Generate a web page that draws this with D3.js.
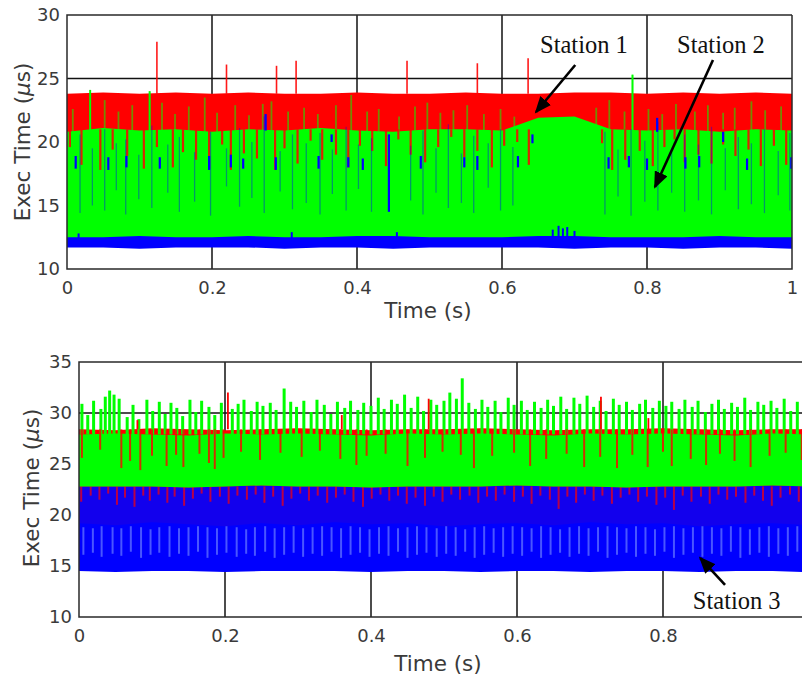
<!DOCTYPE html>
<html>
<head>
<meta charset="utf-8">
<style>
  body { margin: 0; background: #fff; }
  .domain { display: none; }
  .tick text { font-family: "DejaVu Sans", sans-serif; font-size: 18px; fill: #3a3a3a; }
  .lbl { font-family: "DejaVu Sans", sans-serif; font-size: 21.5px; fill: #3a3a3a; }
  .note { font-family: "Liberation Serif", serif; font-size: 24.5px; fill: #111; }
</style>
</head>
<body>
<svg width="802" height="681"></svg>
<script src="https://d3js.org/d3.v7.min.js"></script>
<script>
// ticks
var xTicks = [0, 0.2, 0.4, 0.6, 0.8, 1];
var topYTicks = [10, 15, 20, 25, 30];
var botYTicks = [10, 15, 20, 25, 30, 35];

// times where band edges are sampled
var bandT = [0, 0.05, 0.1, 0.15, 0.2, 0.25, 0.3, 0.35, 0.4, 0.45, 0.5, 0.55, 0.6, 0.65, 0.7, 0.75, 0.8, 0.85, 0.9, 0.95, 1];

// ---- top panel ----
// station 1 (red)
var s1TopHi = [23.8, 23.9, 23.8, 23.9, 23.8, 23.9, 23.8, 23.8, 23.9, 23.8, 23.8, 23.9, 23.8, 23.8, 23.9, 23.9, 23.8, 23.9, 23.8, 23.9, 23.8];
var s1TopLo = [20.4, 20.3, 20.4, 20.2, 20.3, 20.4, 20.3, 20.4, 20.3, 20.3, 20.4, 20.3, 20.4, 20.8, 20.9, 20.4, 20.3, 20.4, 20.3, 20.4, 20.3];
var s1TopUp = [[0.124, 27.9], [0.220, 26.1], [0.289, 26.0], [0.316, 26.4], [0.469, 26.4], [0.566, 26.2], [0.636, 26.6]];
var s1TopDips = [[0.004, 19.6], [0.020, 18.2], [0.046, 17.8], [0.063, 19.4], [0.083, 18.9], [0.106, 17.9], [0.124, 19.6],
  [0.146, 18.0], [0.160, 19.2], [0.178, 18.6], [0.196, 17.9], [0.214, 19.8], [0.226, 17.8], [0.244, 19.1], [0.262, 18.7],
  [0.287, 17.8], [0.300, 19.5], [0.318, 18.3], [0.336, 20.1], [0.352, 18.6], [0.371, 19.0], [0.388, 18.0], [0.404, 19.7],
  [0.421, 19.3], [0.440, 18.1], [0.457, 20.2], [0.474, 19.0], [0.494, 18.4], [0.512, 19.6], [0.530, 20.4], [0.548, 18.8],
  [0.566, 19.3], [0.586, 18.0], [0.603, 19.7], [0.621, 20.0], [0.637, 18.2], [0.738, 19.9], [0.752, 17.8], [0.770, 18.6],
  [0.790, 19.3], [0.808, 18.1], [0.824, 19.6], [0.838, 20.2], [0.852, 18.4], [0.871, 19.0], [0.889, 18.3], [0.905, 19.8],
  [0.922, 18.9], [0.940, 19.4], [0.957, 18.1], [0.975, 19.7], [0.992, 18.2]];
// station 2 (green)
var s2TopHi = [20.8, 21.1, 20.9, 21.0, 20.8, 21.0, 20.9, 21.1, 20.9, 20.8, 21.0, 21.0, 20.9, 21.9, 22.0, 21.0, 20.9, 21.0, 20.8, 21.0, 20.9];
var s2TopLo = [12.4, 12.4, 12.4, 12.4, 12.4, 12.4, 12.4, 12.4, 12.4, 12.4, 12.4, 12.4, 12.4, 12.4, 12.4, 12.4, 12.4, 12.4, 12.4, 12.4, 12.4];
var s2TopUp = [[0.008, 22.6], [0.032, 24.1], [0.052, 23.3], [0.071, 22.4], [0.090, 22.9], [0.114, 24.0], [0.131, 23.1],
  [0.149, 22.2], [0.168, 22.8], [0.190, 23.5], [0.207, 22.3], [0.232, 22.9], [0.251, 22.1], [0.270, 23.0], [0.282, 23.2],
  [0.305, 22.4], [0.327, 22.7], [0.346, 22.2], [0.371, 22.9], [0.392, 23.7], [0.414, 22.4], [0.430, 22.6], [0.458, 22.0],
  [0.480, 22.8], [0.497, 23.1], [0.515, 22.3], [0.533, 22.5], [0.552, 22.9], [0.575, 22.2], [0.598, 22.6], [0.617, 22.0],
  [0.730, 22.7], [0.748, 23.3], [0.769, 22.4], [0.780, 25.3], [0.802, 22.6], [0.821, 22.2], [0.840, 23.0], [0.866, 22.4],
  [0.884, 22.9], [0.905, 22.3], [0.921, 22.7], [0.944, 23.2], [0.963, 22.5], [0.985, 22.8]];
// station 3 (blue)
var s3TopHi = [12.5, 12.5, 12.6, 12.5, 12.5, 12.6, 12.5, 12.5, 12.6, 12.6, 12.5, 12.5, 12.5, 12.6, 12.6, 12.5, 12.5, 12.5, 12.6, 12.5, 12.5];
var s3TopLo = [11.7, 11.7, 11.6, 11.7, 11.7, 11.7, 11.6, 11.7, 11.7, 11.6, 11.7, 11.7, 11.7, 11.7, 11.6, 11.7, 11.7, 11.6, 11.7, 11.7, 11.6];
var s3TopBumps = [[0.016, 12.8], [0.310, 12.9], [0.455, 12.9], [0.670, 13.1], [0.678, 13.4], [0.684, 13.2], [0.690, 13.3], [0.700, 13.0]];
var s3TopLines = [[0.018, 14.4, 20.6], [0.035, 15.0, 19.5], [0.052, 14.6, 21.0], [0.068, 16.2, 19.9], [0.081, 14.3, 20.2],
  [0.099, 15.5, 19.0], [0.117, 14.8, 21.3], [0.139, 16.0, 19.8], [0.155, 14.5, 20.4], [0.176, 15.3, 19.2], [0.198, 14.2, 20.8],
  [0.220, 16.5, 19.5], [0.238, 14.9, 21.1], [0.255, 15.6, 20.0], [0.272, 14.4, 22.0], [0.294, 16.1, 19.3], [0.311, 14.7, 20.6],
  [0.330, 15.2, 19.9], [0.349, 14.3, 20.7], [0.366, 15.9, 19.4], [0.385, 14.6, 21.2], [0.402, 16.3, 19.8], [0.420, 14.5, 20.3],
  [0.474, 15.4, 19.7], [0.491, 14.3, 20.9], [0.509, 16.0, 19.5], [0.526, 14.8, 21.4], [0.544, 15.2, 19.1], [0.561, 14.4, 20.5],
  [0.581, 16.4, 19.9], [0.598, 14.6, 21.0], [0.615, 15.0, 19.6], [0.742, 14.3, 20.8], [0.760, 15.7, 19.4], [0.778, 14.2, 21.0],
  [0.797, 15.3, 20.1], [0.815, 14.6, 21.6], [0.834, 16.0, 19.2], [0.852, 14.5, 20.6], [0.871, 15.4, 19.8], [0.889, 14.3, 21.2],
  [0.908, 16.2, 19.5], [0.926, 14.7, 20.4], [0.944, 15.1, 19.9], [0.962, 14.4, 21.0], [0.981, 15.8, 19.3], [0.997, 14.6, 20.7]];
var s3TopMarks = [[0.012, 17.9, 18.9], [0.057, 17.8, 18.8], [0.082, 18.0, 18.9], [0.128, 17.9, 18.8], [0.196, 17.8, 18.9],
  [0.226, 18.0, 19.0], [0.243, 17.9, 18.7], [0.274, 20.9, 22.2], [0.288, 17.8, 18.8], [0.347, 17.9, 18.9], [0.365, 20.0, 20.6],
  [0.388, 18.0, 18.8], [0.408, 17.8, 18.7], [0.444, 14.5, 20.6], [0.488, 17.9, 18.9], [0.548, 18.0, 18.8], [0.566, 17.8, 18.9],
  [0.622, 18.0, 18.9], [0.642, 19.9, 20.6], [0.747, 17.9, 18.8], [0.775, 18.0, 18.9], [0.800, 17.8, 18.7], [0.814, 20.8, 21.9],
  [0.853, 17.9, 18.8], [0.872, 18.0, 18.9], [0.905, 20.0, 20.8], [0.938, 17.8, 18.7], [0.999, 17.9, 18.8]];

// ---- bottom panel ----
// station 1 (red)
var s1BotHi = [28.4, 28.3, 28.5, 28.4, 28.3, 28.4, 28.5, 28.4, 28.3, 28.4, 28.4, 28.5, 28.4, 28.3, 28.4, 28.4, 28.5, 28.4, 28.3, 28.4, 28.4];
var s1BotLo = [19.2, 19.0, 19.3, 19.1, 18.9, 19.2, 19.0, 19.3, 19.1, 19.2, 18.9, 19.1, 19.2, 19.0, 19.3, 19.1, 19.2, 18.9, 19.1, 19.2, 19.0];
var s1BotUp = [[0.080, 29.3], [0.204, 32.0], [0.360, 29.8], [0.479, 31.4], [0.715, 31.6], [0.780, 29.5]];
var s1BotDips = [[0.004, 25.6], [0.029, 26.4], [0.058, 24.6], [0.070, 25.3], [0.084, 24.4], [0.100, 25.8], [0.120, 24.8],
  [0.133, 25.9], [0.143, 24.7], [0.165, 26.0], [0.178, 25.1], [0.186, 24.5], [0.198, 25.6], [0.222, 26.2], [0.248, 25.4],
  [0.276, 26.1], [0.305, 25.7], [0.330, 26.3], [0.358, 25.5], [0.380, 24.9], [0.394, 25.8], [0.420, 26.0], [0.450, 24.8],
  [0.474, 25.6], [0.498, 26.2], [0.523, 25.9], [0.541, 24.6], [0.566, 25.8], [0.596, 26.1], [0.618, 24.8], [0.640, 25.5],
  [0.668, 26.0], [0.692, 24.7], [0.714, 25.7], [0.737, 24.6], [0.758, 25.9], [0.779, 24.7], [0.800, 26.2], [0.812, 24.8],
  [0.838, 25.5], [0.859, 24.9], [0.878, 26.0], [0.898, 25.3], [0.920, 24.7], [0.946, 25.8], [0.968, 26.1], [0.990, 25.4]];
var s1BotDipsLow = [[0.003, 21.3], [0.016, 21.9], [0.028, 21.5], [0.040, 22.1], [0.052, 21.0], [0.063, 21.7], [0.076, 20.8],
  [0.088, 21.9], [0.097, 21.4], [0.109, 22.0], [0.121, 21.2], [0.131, 21.8], [0.144, 20.9], [0.156, 21.6], [0.168, 22.1],
  [0.180, 21.3], [0.193, 21.8], [0.205, 21.1], [0.217, 21.9], [0.230, 21.5], [0.242, 22.0], [0.254, 21.2], [0.266, 21.8],
  [0.279, 20.9], [0.291, 21.6], [0.303, 22.1], [0.315, 21.4], [0.327, 21.9], [0.340, 21.2], [0.352, 21.7], [0.364, 22.0],
  [0.376, 21.3], [0.389, 20.8], [0.401, 21.6], [0.413, 22.0], [0.425, 21.4], [0.437, 21.9], [0.449, 21.1], [0.461, 21.7],
  [0.474, 20.9], [0.486, 21.8], [0.498, 21.3], [0.510, 22.0], [0.522, 21.5], [0.535, 21.9], [0.547, 21.2], [0.559, 21.8],
  [0.571, 21.4], [0.583, 22.0], [0.596, 21.3], [0.608, 21.8], [0.620, 21.1], [0.632, 21.9], [0.645, 21.5], [0.657, 20.6],
  [0.669, 21.8], [0.681, 21.2], [0.693, 22.0], [0.705, 21.4], [0.717, 21.9], [0.730, 21.1], [0.742, 21.7], [0.754, 22.0],
  [0.766, 21.3], [0.778, 21.8], [0.791, 21.0], [0.803, 21.7], [0.815, 20.5], [0.827, 21.9], [0.839, 21.3], [0.852, 21.8],
  [0.864, 21.1], [0.876, 22.0], [0.888, 21.5], [0.900, 21.8], [0.913, 21.2], [0.925, 21.9], [0.937, 21.4], [0.949, 20.9],
  [0.961, 21.7], [0.974, 22.0], [0.986, 21.3], [0.998, 21.8]];
// station 2 (green)
var s2BotHi = [27.9, 28.0, 27.9, 27.8, 28.0, 27.9, 28.0, 27.9, 27.8, 28.0, 27.9, 28.0, 27.9, 27.8, 28.0, 27.9, 28.0, 27.9, 27.8, 28.0, 27.9];
var s2BotLo = [22.8, 22.8, 22.8, 22.7, 22.8, 22.9, 22.8, 22.8, 22.7, 22.8, 22.8, 22.8, 22.9, 22.8, 22.8, 22.7, 22.8, 22.8, 22.8, 22.9, 22.8];
var s2BotUp = [[0.004, 30.9], [0.012, 29.8], [0.020, 31.2], [0.030, 30.4], [0.036, 31.6], [0.042, 32.2], [0.048, 31.8],
  [0.055, 31.4], [0.066, 29.6], [0.074, 30.8], [0.082, 29.4], [0.093, 31.3], [0.101, 30.2], [0.110, 31.1], [0.118, 29.9],
  [0.126, 31.0], [0.134, 30.5], [0.142, 29.7], [0.152, 31.3], [0.160, 30.1], [0.168, 31.2], [0.178, 30.6], [0.186, 29.8],
  [0.195, 31.0], [0.210, 30.4], [0.218, 30.9], [0.226, 31.3], [0.236, 30.2], [0.244, 31.1], [0.252, 30.7], [0.262, 31.0],
  [0.270, 30.3], [0.281, 32.4], [0.290, 31.1], [0.298, 30.6], [0.308, 31.2], [0.318, 30.1], [0.326, 31.3], [0.336, 30.8],
  [0.345, 29.9], [0.354, 31.1], [0.364, 30.5], [0.372, 31.2], [0.382, 30.3], [0.390, 31.0], [0.400, 30.7], [0.410, 31.5],
  [0.418, 30.4], [0.428, 31.3], [0.436, 30.9], [0.446, 31.8], [0.455, 30.5], [0.464, 31.6], [0.472, 30.2], [0.482, 31.3],
  [0.490, 30.8], [0.500, 31.2], [0.508, 32.0], [0.517, 31.4], [0.525, 33.4], [0.534, 31.0], [0.543, 30.4], [0.552, 31.3],
  [0.560, 30.6], [0.570, 31.2], [0.578, 30.1], [0.588, 31.5], [0.596, 30.8], [0.606, 31.2], [0.614, 30.3], [0.624, 31.1],
  [0.633, 30.5], [0.642, 31.3], [0.650, 30.7], [0.660, 31.6], [0.668, 30.4], [0.678, 31.5], [0.686, 30.9], [0.696, 31.7],
  [0.705, 30.6], [0.714, 31.2], [0.722, 30.2], [0.732, 31.4], [0.740, 30.8], [0.750, 31.1], [0.758, 30.3], [0.768, 30.9],
  [0.776, 31.3], [0.786, 30.5], [0.795, 31.2], [0.804, 30.7], [0.812, 31.1], [0.822, 30.4], [0.830, 31.3], [0.840, 30.6],
  [0.848, 31.2], [0.858, 30.1], [0.867, 30.9], [0.876, 31.3], [0.884, 30.4], [0.894, 31.0], [0.902, 30.6], [0.912, 31.5],
  [0.920, 30.3], [0.930, 31.1], [0.938, 30.8], [0.948, 31.2], [0.956, 30.5], [0.966, 31.4], [0.975, 30.2], [0.984, 31.1],
  [0.993, 30.8]];
// station 3 (blue)
var s3BotHi = s2BotLo;
var s3BotLo = [14.5, 14.4, 14.5, 14.5, 14.4, 14.5, 14.5, 14.5, 14.4, 14.5, 14.5, 14.4, 14.5, 14.5, 14.4, 14.5, 14.5, 14.4, 14.5, 14.5, 14.4];
var s3BotLight = [[0.006, 16.1, 18.8], [0.019, 16.3, 18.7], [0.031, 15.9, 18.9], [0.046, 16.2, 18.8], [0.058, 16.0, 18.7],
  [0.071, 16.4, 18.9], [0.085, 15.8, 18.8], [0.098, 16.1, 18.6], [0.110, 16.3, 18.8], [0.124, 15.9, 18.9], [0.137, 16.2, 18.7],
  [0.150, 16.0, 18.8], [0.163, 16.4, 18.9], [0.176, 15.8, 18.8], [0.189, 16.1, 18.7], [0.202, 16.3, 18.9], [0.216, 15.9, 18.8],
  [0.229, 16.2, 18.6], [0.241, 16.0, 18.8], [0.255, 16.4, 18.9], [0.268, 15.8, 18.7], [0.281, 16.1, 18.8], [0.294, 16.3, 18.9],
  [0.307, 15.9, 18.7], [0.320, 16.2, 18.8], [0.333, 16.0, 18.9], [0.346, 16.4, 18.8], [0.359, 15.8, 18.7], [0.372, 16.1, 18.9],
  [0.385, 16.3, 18.8], [0.398, 15.9, 18.6], [0.411, 16.2, 18.8], [0.424, 16.0, 18.9], [0.437, 16.4, 18.7], [0.450, 15.8, 18.8],
  [0.463, 16.1, 18.9], [0.476, 16.3, 18.8], [0.490, 15.9, 18.7], [0.503, 16.2, 18.9], [0.516, 16.0, 18.8], [0.529, 16.4, 18.6],
  [0.542, 15.8, 18.8], [0.555, 16.1, 18.9], [0.568, 16.3, 18.7], [0.581, 15.9, 18.8], [0.594, 16.2, 18.9], [0.607, 16.0, 18.8],
  [0.620, 16.4, 18.7], [0.633, 15.8, 18.9], [0.646, 16.1, 18.8], [0.659, 16.3, 18.6], [0.672, 15.9, 18.8], [0.685, 16.2, 18.9],
  [0.698, 16.0, 18.7], [0.711, 16.4, 18.8], [0.724, 15.8, 18.9], [0.737, 16.1, 18.8], [0.750, 16.3, 18.7], [0.763, 15.9, 18.9],
  [0.776, 16.2, 18.8], [0.789, 16.0, 18.6], [0.802, 16.4, 18.8], [0.815, 15.8, 18.9], [0.828, 16.1, 18.7], [0.841, 16.3, 18.8],
  [0.854, 15.9, 18.9], [0.867, 16.2, 18.8], [0.880, 16.0, 18.7], [0.893, 16.4, 18.9], [0.906, 15.8, 18.8], [0.919, 16.1, 18.6],
  [0.932, 16.3, 18.8], [0.945, 15.9, 18.9], [0.958, 16.2, 18.7], [0.971, 16.0, 18.8], [0.984, 16.4, 18.9], [0.997, 15.8, 18.8]];

var RED = "#ff0000", GREEN = "#00ff00", BLUE = "#0000ff";

var svg = d3.select("svg");

svg.append("defs").append("marker")
    .attr("id", "head")
    .attr("markerUnits", "userSpaceOnUse")
    .attr("markerWidth", 18).attr("markerHeight", 14)
    .attr("refX", 15).attr("refY", 7)
    .attr("orient", "auto")
  .append("path")
    .attr("d", "M0,0 L17,7 L0,14 Z")
    .attr("fill", "#000");

function makePanel(id, box, yDomain, yTicks) {
  var x = d3.scaleLinear().domain([0, 1]).range([box.left, box.right]);
  var y = d3.scaleLinear().domain(yDomain).range([box.bottom, box.top]);

  svg.append("clipPath").attr("id", id).append("rect")
      .attr("x", box.left).attr("y", box.top)
      .attr("width", box.right - box.left).attr("height", box.bottom - box.top);

  var grid = svg.append("g").attr("stroke", "#111").attr("stroke-width", 1.5);
  grid.selectAll(".gx").data(xTicks.slice(1, -1)).join("line")
      .attr("x1", x).attr("x2", x).attr("y1", box.top).attr("y2", box.bottom);
  grid.selectAll(".gy").data(yTicks.slice(1, -1)).join("line")
      .attr("y1", y).attr("y2", y).attr("x1", box.left).attr("x2", box.right);

  var plot = svg.append("g").attr("clip-path", "url(#" + id + ")");
  return { x: x, y: y, box: box, plot: plot, yTicks: yTicks };
}

function band(p, lo, hi, color, op) {
  var area = d3.area()
      .x(function(d, i) { return p.x(bandT[i]); })
      .y0(function(d, i) { return p.y(lo[i]); })
      .y1(function(d) { return p.y(d); });
  p.plot.append("path").datum(hi)
      .attr("d", area)
      .attr("fill", color)
      .attr("fill-opacity", op == null ? 1 : op);
}

// vertical strokes: [t, v] from base to v, or [t, lo, hi]
function strokes(p, data, base, color, w, op) {
  p.plot.append("g").selectAll("line").data(data).join("line")
      .attr("x1", function(d) { return p.x(d[0]); })
      .attr("x2", function(d) { return p.x(d[0]); })
      .attr("y1", function(d) { return p.y(d.length > 2 ? d[1] : base); })
      .attr("y2", function(d) { return p.y(d.length > 2 ? d[2] : d[1]); })
      .attr("stroke", color)
      .attr("stroke-width", w)
      .attr("stroke-opacity", op == null ? 1 : op);
}

function finishPanel(p, xLabelPos, yLabelPos) {
  var b = p.box;
  svg.append("path")
      .attr("d", "M" + b.right + "," + b.top + "H" + b.left + "V" + b.bottom + "H" + b.right + "V" + b.top)
      .attr("fill", "none").attr("stroke", "#2a2a2a").attr("stroke-width", 1.5);

  svg.append("g")
      .attr("transform", "translate(0," + b.bottom + ")")
      .call(d3.axisBottom(p.x).tickValues(xTicks).tickSize(0).tickPadding(12.5).tickFormat(d3.format("~g")))
      .call(function(g) { g.attr("font-family", null).attr("font-size", null); });

  svg.append("g")
      .attr("transform", "translate(" + b.left + ",0)")
      .call(d3.axisLeft(p.y).tickValues(p.yTicks).tickSize(0).tickPadding(7))
      .call(function(g) { g.attr("font-family", null).attr("font-size", null); });
  svg.selectAll(".tick line").remove();

  svg.append("text").attr("class", "lbl")
      .attr("x", xLabelPos[0]).attr("y", xLabelPos[1])
      .attr("text-anchor", "middle").attr("dominant-baseline", "central")
      .text("Time (s)");

  var yl = svg.append("text").attr("class", "lbl")
      .attr("transform", "translate(" + yLabelPos[0] + "," + yLabelPos[1] + ") rotate(-90)")
      .attr("text-anchor", "middle").attr("dominant-baseline", "central");
  yl.append("tspan").text("Exec Time (");
  yl.append("tspan").attr("font-style", "italic").text("\u03bc");
  yl.append("tspan").text("s)");
}

function note(p, label, at, from, to) {
  svg.append("text").attr("class", "note")
      .attr("x", p.x(at[0])).attr("y", p.y(at[1]))
      .attr("text-anchor", "middle").attr("dominant-baseline", "central")
      .text(label);
  svg.append("line")
      .attr("x1", p.x(from[0])).attr("y1", p.y(from[1]))
      .attr("x2", p.x(to[0])).attr("y2", p.y(to[1]))
      .attr("stroke", "#000").attr("stroke-width", 2.6)
      .attr("marker-end", "url(#head)");
}

// top panel
var topP = makePanel("clipTop", { left: 67, right: 792, top: 15, bottom: 269 }, [10, 30], topYTicks);
band(topP, s1TopLo, s1TopHi, RED);
strokes(topP, s1TopUp, 23.8, RED, 1.6, 0.9);
band(topP, s2TopLo, s2TopHi, GREEN);
strokes(topP, s2TopUp, 20.8, GREEN, 1.8, 0.55);
strokes(topP, s2TopUp.filter(function(d) { return d[1] > 23.9; }), 20.8, GREEN, 1.8, 1);
strokes(topP, s1TopDips, 21.0, RED, 2.2, 0.85);
band(topP, s3TopLo, s3TopHi, BLUE);
strokes(topP, s3TopBumps, 12.4, BLUE, 2);
strokes(topP, s3TopLines, 0, BLUE, 1.3, 0.4);
strokes(topP, s3TopMarks, 0, BLUE, 2.2);
finishPanel(topP, [428, 310], [22, 142]);

// bottom panel
var botP = makePanel("clipBot", { left: 79, right: 809, top: 362, bottom: 617 }, [10, 35], botYTicks);
band(botP, s1BotLo, s1BotHi, RED);
band(botP, s3BotLo, s3BotHi, BLUE);
band(botP, s1BotLo, s1BotHi, RED, 0.07);
strokes(botP, s3BotLight, 0, "#5b6bff", 2, 0.8);
strokes(botP, s1BotDipsLow, 22.8, RED, 2, 0.7);
band(botP, s2BotLo, s2BotHi, GREEN);
strokes(botP, s2BotUp, 27.9, GREEN, 3);
strokes(botP, s1BotDips, 28.4, RED, 2, 0.8);
strokes(botP, s1BotUp, 28.4, RED, 1.8);
finishPanel(botP, [438, 663], [31, 488]);

// annotations
note(topP, "Station 1", [0.713, 27.64], [0.701, 26.06], [0.647, 22.36]);
note(topP, "Station 2", [0.902, 27.70], [0.891, 26.46], [0.811, 16.46]);
note(botP, "Station 3", [0.901, 11.57], [0.885, 13.14], [0.851, 15.78]);
</script>
</body>
</html>
